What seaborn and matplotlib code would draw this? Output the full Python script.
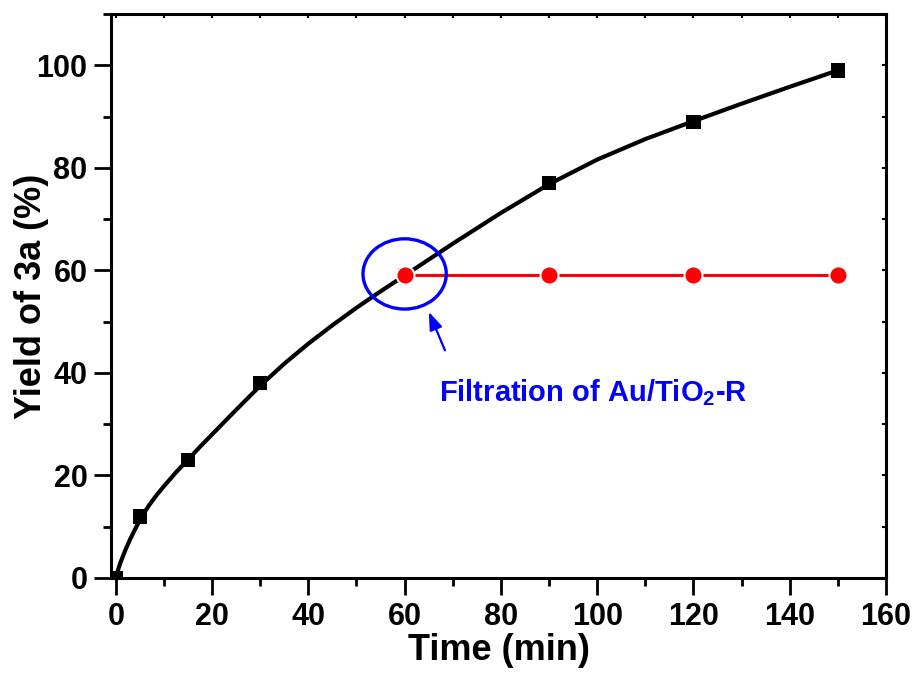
import matplotlib
matplotlib.use("Agg")
import matplotlib.pyplot as plt
import numpy as np
import pandas as pd
import seaborn as sns
from matplotlib.patches import Ellipse
from matplotlib.ticker import MultipleLocator

# measured yields (black squares)
time_min = [0, 5, 15, 30, 60, 90, 120, 150]
yield_pct = [0, 12, 23, 38, 59, 77, 89, 99]

# fitted curve
curve_t = [0, 0.5, 1, 2, 3, 4, 5, 6, 7, 8.5, 10, 12.5, 15, 17.5, 20, 25, 30,
           35, 40, 45, 50, 55, 60, 70, 80, 90, 100, 110, 120, 130, 140, 150]
curve_y = [0, 1.7, 3.1, 5.5, 7.6, 9.5, 11.3, 12.9, 14.3, 16.2, 17.9, 20.6,
           23.1, 25.6, 28.0, 32.8, 37.5, 41.8, 45.7, 49.3, 52.7, 55.9, 59.0,
           65.2, 71.2, 76.8, 81.6, 85.6, 89.1, 92.5, 95.8, 99.0]

# after filtration of the catalyst (red circles)
filt_time = [60, 90, 120, 150]
filt_yield = [59, 59, 59, 59]

FONT = ["Liberation Sans", "DejaVu Sans"]

sns.set_theme(style="ticks")
plt.rcParams["font.family"] = FONT
plt.rcParams["font.weight"] = "bold"
plt.rcParams["text.color"] = "black"
plt.rcParams["axes.labelcolor"] = "black"
plt.rcParams["xtick.color"] = "black"
plt.rcParams["ytick.color"] = "black"
plt.rcParams["mathtext.fontset"] = "custom"
plt.rcParams["mathtext.rm"] = "Liberation Sans:bold"
plt.rcParams["mathtext.it"] = "Liberation Sans:bold"
plt.rcParams["mathtext.bf"] = "Liberation Sans:bold"
plt.rcParams["mathtext.default"] = "rm"

fig = plt.figure(figsize=(9.16, 6.73), dpi=100)
ax = fig.add_axes([0.1212, 0.1412, 0.846, 0.838])

curve = pd.DataFrame({"t": curve_t, "y": curve_y})
points = pd.DataFrame({"t": time_min, "y": yield_pct})
filt = pd.DataFrame({"t": filt_time, "y": filt_yield})

sns.lineplot(data=curve, x="t", y="y", color="black", lw=3, sort=False,
             estimator=None, solid_joinstyle="round", ax=ax, zorder=2)
sns.scatterplot(data=points, x="t", y="y", marker="s", s=105, color="black",
                edgecolor="none", ax=ax, zorder=3)
sns.lineplot(data=filt, x="t", y="y", color="red", lw=2.2, marker="o",
             markersize=13, markeredgecolor="white", markeredgewidth=1.4,
             estimator=None, ax=ax, zorder=4)

ax.add_patch(Ellipse((60, 59.3), 17.3, 13.7, fill=False, ec="blue", lw=2.4,
                     zorder=5))
ax.annotate("", xy=(64.8, 52.4), xytext=(68.6, 43.9),
            arrowprops=dict(arrowstyle="-|>,head_length=0.6,head_width=0.22",
                            color="blue", lw=1.6, mutation_scale=18))
ax.text(67.2, 34.5, "Filtration of Au/TiO$_2$-R", color="blue", fontsize=21,
        fontweight="bold")

ax.set_xlim(-1, 160)
ax.set_ylim(0, 110)
ax.xaxis.set_major_locator(MultipleLocator(20))
ax.xaxis.set_minor_locator(MultipleLocator(10))
ax.yaxis.set_major_locator(MultipleLocator(20))
ax.yaxis.set_minor_locator(MultipleLocator(10))
ax.set_yticks([0, 20, 40, 60, 80, 100])

for side in ["left", "right", "top", "bottom"]:
    ax.spines[side].set_visible(True)
    ax.spines[side].set_linewidth(2.2)
    ax.spines[side].set_color("black")

ax.tick_params(which="major", direction="out", length=12, width=2, pad=5,
               labelsize=22, colors="black")
ax.tick_params(which="minor", direction="out", length=6, width=2)

# short inward ticks on the top and right frame
top = ax.secondary_xaxis("top")
top.xaxis.set_major_locator(MultipleLocator(10))
top.tick_params(direction="in", length=3, width=1.5, labeltop=False)
top.spines["top"].set_visible(False)
right = ax.secondary_yaxis("right")
right.yaxis.set_major_locator(MultipleLocator(10))
right.tick_params(direction="in", length=3, width=1.5, labelright=False)
right.spines["right"].set_visible(False)

ax.set_xlabel("Time (min)", fontsize=26, fontweight="bold", labelpad=1)
ax.set_ylabel("Yield of 3a (%)", fontsize=26, fontweight="bold")
ax.yaxis.set_label_coords(-0.080, 0.5)

fig.savefig("out.png", dpi=100, facecolor="white")
